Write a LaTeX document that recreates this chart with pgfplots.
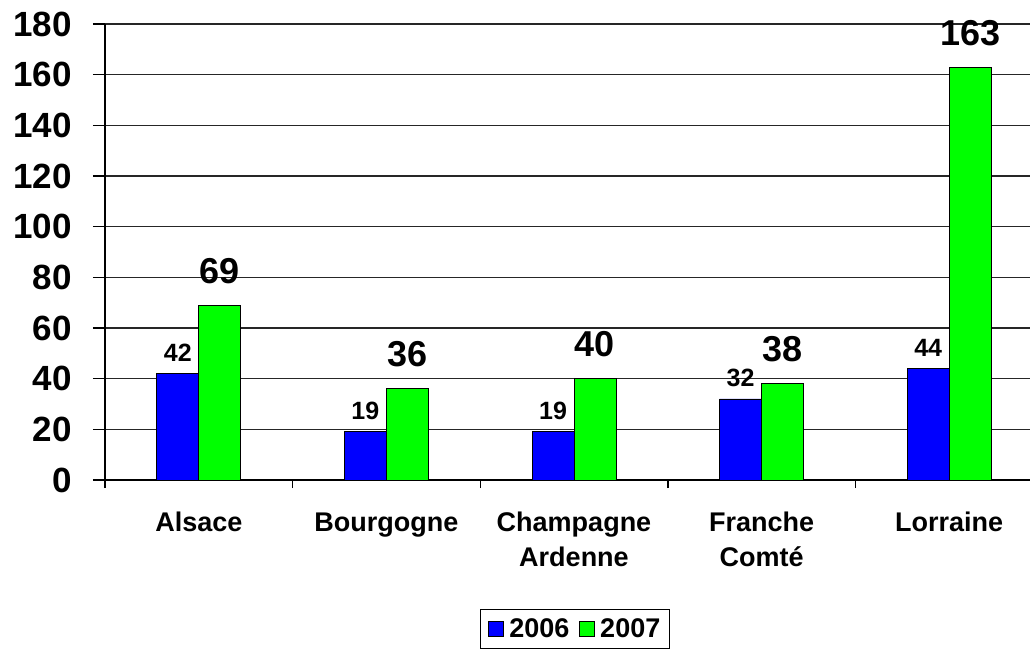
\documentclass[border=0pt]{standalone}
\usepackage{pgfplots}
\pgfplotsset{compat=1.18}
\usepackage{fontspec}
\setmainfont{Liberation Sans}
\definecolor{barblue}{RGB}{0,0,255}
\definecolor{bargreen}{RGB}{0,255,0}
\begin{document}
\begin{tikzpicture}
\begin{axis}[
 at={(105pt,168pt)}, anchor=south west,
 scale only axis, width=938pt, height=456pt,
 xmin=-0.5, xmax=4.5, ymin=0, ymax=180,
 axis x line*=bottom, axis y line*=left,
 axis line style={line width=1.4pt, black, -},
 ybar=0pt, bar width=42pt,
 ytick={0,20,...,180},
 ymajorgrids, grid style={line width=1.4pt, black!85},
 tick align=outside,
 major tick length=12pt,
 ytick style={draw=black, line width=1.4pt},
 xtick={0,1,2,3,4},
 xticklabels={{\strut Alsace}, {\strut Bourgogne}, {\strut Champagne\\Ardenne}, {\strut Franche\\Comté}, {\strut Lorraine}},
 xtick style={draw=none},
 extra x ticks={-0.5,0.5,1.5,2.5,3.5},
 extra x tick labels={},
 extra x tick style={major tick length=8pt, xtick style={draw=black, line width=1.4pt}},
 xticklabel style={font=\fontsize{27}{35}\selectfont\bfseries, align=center, anchor=north, inner sep=0pt, yshift=-15pt},
 yticklabel style={font=\fontsize{35}{40}\selectfont\bfseries, anchor=east, inner sep=0pt, xshift=-21pt},
 /pgf/number format/assume math mode=true,
 legend style={at={(0.501,-0.283)}, anchor=north, legend columns=2, draw=black, line width=1pt,
   font=\fontsize{27}{27}\selectfont\bfseries, inner xsep=8pt, inner ysep=8pt,
   nodes={inner sep=1.5pt},
   /tikz/every odd column/.append style={column sep=4pt},
   /tikz/every even column/.append style={column sep=8pt}},
 legend image code/.code={\draw[#1, line width=0.8pt] (0pt,-7.5pt) rectangle (15pt,7.5pt);},
]
\addplot[fill=barblue, draw=black, line width=0.8pt, nodes near coords,
  every node near coord/.append style={font=\fontsize{25}{25}\selectfont\bfseries, inner sep=0pt, yshift=12pt, black, anchor=south}]
  coordinates {(0,42) (1,19) (2,19) (3,32) (4,44)};
\addplot[fill=bargreen, draw=black, line width=0.8pt, nodes near coords,
  every node near coord/.append style={font=\fontsize{36}{36}\selectfont\bfseries, inner sep=0pt, yshift=21pt, black, anchor=south}]
  coordinates {(0,69) (1,36) (2,40) (3,38) (4,163)};
\legend{2006, 2007}
\end{axis}
\pgfresetboundingbox
\path[use as bounding box] (0pt,0pt) rectangle (1030pt,648pt);
\end{tikzpicture}
\end{document}
